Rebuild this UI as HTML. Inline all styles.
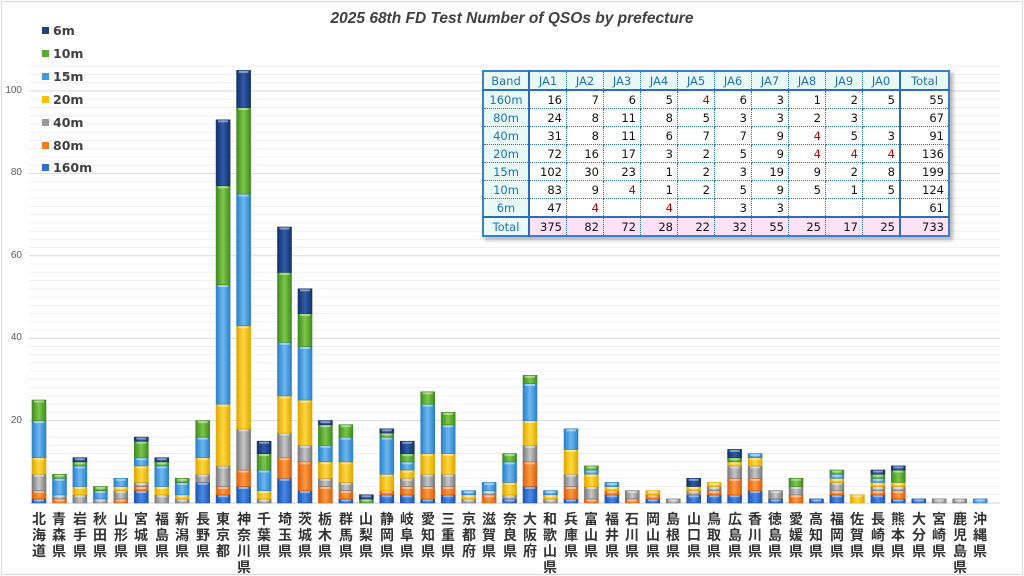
<!DOCTYPE html>
<html><head><meta charset="utf-8">
<style>
body{margin:0;background:#fff;}
#c{position:relative;width:1024px;height:576px;overflow:hidden;background:#fff;font-family:"Liberation Sans","Noto Sans CJK JP",sans-serif;}
#frame{position:absolute;left:1px;top:1px;width:1020px;height:572px;border:1px solid #d9d9d9;}
.title{position:absolute;left:0;width:1024px;top:10px;text-align:center;font-size:15.5px;font-weight:bold;font-style:italic;color:#404040;}
.yl{position:absolute;left:4px;width:18px;text-align:right;font-size:10px;color:#595959;}
.lg{position:absolute;left:42px;font-size:12.5px;font-weight:bold;color:#404040;font-family:"DejaVu Sans",sans-serif;}
.lg i{display:inline-block;width:7px;height:7px;margin-right:4px;vertical-align:1px;}
.pl{position:absolute;top:511px;width:20px;text-align:center;font-size:14px;line-height:16px;font-weight:bold;color:#333;}
table{position:absolute;left:482px;top:70px;border-collapse:collapse;font-size:11.5px;font-family:"DejaVu Sans",sans-serif;background:#fff;box-shadow:3px 3px 4px rgba(0,0,0,0.3);border:2px solid #3c7fd0;}
td{height:17px;padding:0 4px 0 0;text-align:right;border:1px dotted #2a6cc0;color:#111;width:32px;}
td.b{text-align:center;color:#1f6fc0;background:#e9f9f6;width:44px;padding:0;border-right:2px solid #2a6cc0;}
td.t{width:43px;border-left:2px solid #2a6cc0;}
tr.h td{background:#e9f9f6;color:#1f6fc0;text-align:center;padding:0;border-bottom:2px solid #2a6cc0;}
tr.tot td{background:#fde1f6;border-top:2px solid #2a6cc0;}
tr.tot td.b{background:#e9f9f6;}
.r{color:#c00000;}
</style></head><body>
<div id="c">
<div id="frame"></div>
<svg id="s" width="1024" height="576" style="position:absolute;left:0;top:0"></svg>
<div class="title">2025 68th FD Test Number of QSOs by prefecture</div>
<div class="yl" style="top:85px">100</div>
<div class="yl" style="top:167px">80</div>
<div class="yl" style="top:250px">60</div>
<div class="yl" style="top:332px">40</div>
<div class="yl" style="top:415px">20</div>
<div class="lg" style="top:23px"><i style="background:#1f3f80"></i>6m</div>
<div class="lg" style="top:46px"><i style="background:#5aaa30"></i>10m</div>
<div class="lg" style="top:69px"><i style="background:#3e9ae0"></i>15m</div>
<div class="lg" style="top:92px"><i style="background:#ffc000"></i>20m</div>
<div class="lg" style="top:115px"><i style="background:#999"></i>40m</div>
<div class="lg" style="top:138px"><i style="background:#f07a20"></i>80m</div>
<div class="lg" style="top:160px"><i style="background:#2f6fd0"></i>160m</div>

<table>
<tr class="h"><td class="b">Band</td><td>JA1</td><td>JA2</td><td>JA3</td><td>JA4</td><td>JA5</td><td>JA6</td><td>JA7</td><td>JA8</td><td>JA9</td><td>JA0</td><td class="t">Total</td></tr>
<tr><td class="b">160m</td><td>16</td><td>7</td><td>6</td><td>5</td><td class="r">4</td><td>6</td><td>3</td><td>1</td><td>2</td><td>5</td><td class="t">55</td></tr>
<tr><td class="b">80m</td><td>24</td><td>8</td><td>11</td><td>8</td><td>5</td><td>3</td><td>3</td><td>2</td><td>3</td><td></td><td class="t">67</td></tr>
<tr><td class="b">40m</td><td>31</td><td>8</td><td>11</td><td>6</td><td>7</td><td>7</td><td>9</td><td class="r">4</td><td>5</td><td>3</td><td class="t">91</td></tr>
<tr><td class="b">20m</td><td>72</td><td>16</td><td>17</td><td>3</td><td>2</td><td>5</td><td>9</td><td class="r">4</td><td class="r">4</td><td class="r">4</td><td class="t">136</td></tr>
<tr><td class="b">15m</td><td>102</td><td>30</td><td>23</td><td>1</td><td>2</td><td>3</td><td>19</td><td>9</td><td>2</td><td>8</td><td class="t">199</td></tr>
<tr><td class="b">10m</td><td>83</td><td>9</td><td class="r">4</td><td>1</td><td>2</td><td>5</td><td>9</td><td>5</td><td>1</td><td>5</td><td class="t">124</td></tr>
<tr><td class="b">6m</td><td>47</td><td class="r">4</td><td></td><td class="r">4</td><td></td><td>3</td><td>3</td><td></td><td></td><td></td><td class="t">61</td></tr>
<tr class="tot"><td class="b">Total</td><td>375</td><td>82</td><td>72</td><td>28</td><td>22</td><td>32</td><td>55</td><td>25</td><td>17</td><td>25</td><td class="t">733</td></tr>
</table>

<div id="labels">
<div class="pl" style="left:29px">北<br>海<br>道</div>
<div class="pl" style="left:49px">青<br>森<br>県</div>
<div class="pl" style="left:70px">岩<br>手<br>県</div>
<div class="pl" style="left:90px">秋<br>田<br>県</div>
<div class="pl" style="left:111px">山<br>形<br>県</div>
<div class="pl" style="left:131px">宮<br>城<br>県</div>
<div class="pl" style="left:152px">福<br>島<br>県</div>
<div class="pl" style="left:172px">新<br>潟<br>県</div>
<div class="pl" style="left:193px">長<br>野<br>県</div>
<div class="pl" style="left:213px">東<br>京<br>都</div>
<div class="pl" style="left:234px">神<br>奈<br>川<br>県</div>
<div class="pl" style="left:254px">千<br>葉<br>県</div>
<div class="pl" style="left:275px">埼<br>玉<br>県</div>
<div class="pl" style="left:295px">茨<br>城<br>県</div>
<div class="pl" style="left:315px">栃<br>木<br>県</div>
<div class="pl" style="left:336px">群<br>馬<br>県</div>
<div class="pl" style="left:356px">山<br>梨<br>県</div>
<div class="pl" style="left:377px">静<br>岡<br>県</div>
<div class="pl" style="left:397px">岐<br>阜<br>県</div>
<div class="pl" style="left:418px">愛<br>知<br>県</div>
<div class="pl" style="left:438px">三<br>重<br>県</div>
<div class="pl" style="left:459px">京<br>都<br>府</div>
<div class="pl" style="left:479px">滋<br>賀<br>県</div>
<div class="pl" style="left:500px">奈<br>良<br>県</div>
<div class="pl" style="left:520px">大<br>阪<br>府</div>
<div class="pl" style="left:540px">和<br>歌<br>山<br>県</div>
<div class="pl" style="left:561px">兵<br>庫<br>県</div>
<div class="pl" style="left:581px">富<br>山<br>県</div>
<div class="pl" style="left:602px">福<br>井<br>県</div>
<div class="pl" style="left:622px">石<br>川<br>県</div>
<div class="pl" style="left:643px">岡<br>山<br>県</div>
<div class="pl" style="left:663px">島<br>根<br>県</div>
<div class="pl" style="left:684px">山<br>口<br>県</div>
<div class="pl" style="left:704px">鳥<br>取<br>県</div>
<div class="pl" style="left:725px">広<br>島<br>県</div>
<div class="pl" style="left:745px">香<br>川<br>県</div>
<div class="pl" style="left:765px">徳<br>島<br>県</div>
<div class="pl" style="left:786px">愛<br>媛<br>県</div>
<div class="pl" style="left:806px">高<br>知<br>県</div>
<div class="pl" style="left:827px">福<br>岡<br>県</div>
<div class="pl" style="left:847px">佐<br>賀<br>県</div>
<div class="pl" style="left:868px">長<br>崎<br>県</div>
<div class="pl" style="left:888px">熊<br>本<br>県</div>
<div class="pl" style="left:909px">大<br>分<br>県</div>
<div class="pl" style="left:929px">宮<br>崎<br>県</div>
<div class="pl" style="left:950px">鹿<br>児<br>島<br>県</div>
<div class="pl" style="left:970px">沖<br>縄<br>県</div>
</div>
</div>
<script>
var D=[[1,2,4,4,9,5,0],[0,1,1,0,4,1,0],[0,0,2,2,5,1,1],[0,0,1,0,2,1,0],[0,1,2,1,2,0,0],[3,1,1,4,2,4,1],[0,0,2,2,5,1,1],[0,0,1,1,3,1,0],[5,0,2,4,5,4,0],[2,2,5,15,29,24,16],[4,4,10,25,32,21,9],[0,0,1,2,5,4,3],[6,5,6,9,13,17,11],[3,7,4,11,13,8,6],[0,4,2,4,4,5,1],[1,2,2,5,6,3,0],[0,0,0,0,0,1,1],[2,1,0,4,9,1,1],[2,2,2,2,2,2,3],[1,3,3,5,12,3,0],[2,2,3,5,7,3,0],[0,0,1,1,1,0,0],[0,2,1,0,2,0,0],[1,0,1,3,5,2,0],[4,6,4,6,9,2,0],[0,0,1,1,1,0,0],[1,3,3,6,5,0,0],[0,1,3,3,1,1,0],[2,1,0,1,1,0,0],[0,1,2,0,0,0,0],[1,1,0,1,0,0,0],[0,0,1,0,0,0,0],[2,0,1,1,0,0,2],[2,1,1,1,0,0,0],[2,4,3,1,0,1,2],[3,3,3,2,1,0,0],[1,0,2,0,0,0,0],[0,2,2,0,0,2,0],[1,0,0,0,0,0,0],[2,1,2,1,1,1,0],[0,0,0,2,0,0,0],[2,1,1,1,1,1,1],[1,2,1,1,0,3,1],[1,0,0,0,0,0,0],[0,0,1,0,0,0,0],[0,0,1,0,0,0,0],[0,0,0,0,1,0,0]];
var C=[["#1d55b0","#4a8ae8"],["#d86010","#ff9a40"],["#7a7a7a","#c8c8c8"],["#e0a800","#ffd840"],["#2a80c8","#6cb8f0"],["#3f8a20","#7cc848"],["#13306a","#2f5ca8"]];
var s=document.getElementById('s'),h='<defs>';
C.forEach(function(c,i){h+='<linearGradient id="g'+i+'" x1="0" x2="1"><stop offset="0" stop-color="'+c[0]+'"/><stop offset="0.5" stop-color="'+c[1]+'"/><stop offset="1" stop-color="'+c[0]+'"/></linearGradient>';});
h+='</defs>';
var Z=503,U=4.12;
for(var v=2;v<=106;v+=2){var y=Z-v*U;h+='<line x1="29" x2="1000" y1="'+y+'" y2="'+y+'" stroke="'+(v%20==0?'#d9d9d9':'#f0f0f0')+'" stroke-width="1"/>';}
h+='<line x1="29" x2="1000" y1="'+Z+'" y2="'+Z+'" stroke="#d0d0d0"/>';
D.forEach(function(d,i){var x=39+20.46*i-7,c=0;d.forEach(function(n,k){if(!n)return;var y1=Z-(c+n)*U;h+='<rect x="'+x.toFixed(1)+'" y="'+y1.toFixed(1)+'" width="14" height="'+(n*U).toFixed(1)+'" fill="url(#g'+k+')" stroke="'+C[k][0]+'" stroke-width="0.6"/><rect x="'+(x+2).toFixed(1)+'" y="'+(y1+0.5).toFixed(1)+'" width="10" height="2" fill="#fff" opacity="0.45"/>';c+=n;});});
s.innerHTML=h;
</script>
</body></html>
